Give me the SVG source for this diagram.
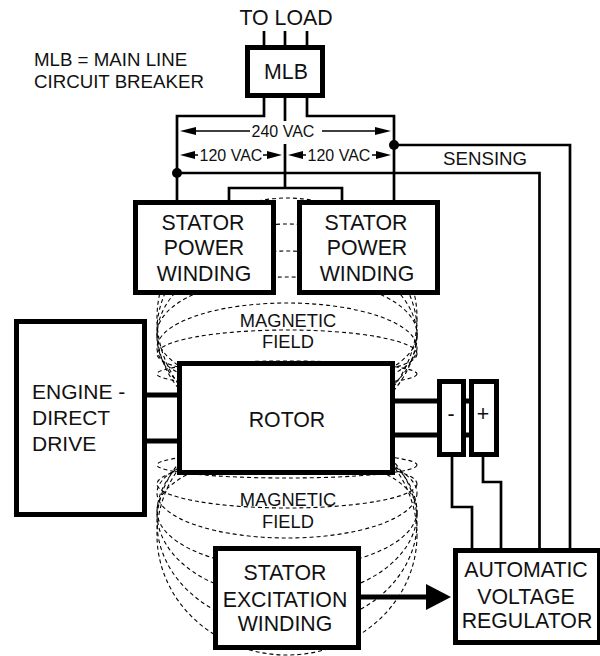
<svg xmlns="http://www.w3.org/2000/svg" width="600" height="656" viewBox="0 0 600 656">
<style>
text{font-family:"Liberation Sans",Arial,sans-serif;fill:#111;text-anchor:middle}
.t{font-size:21.3px}.s{font-size:16px}.m{font-size:18.3px}.n{font-size:18.7px;text-anchor:start}
.e{font-size:21px;text-anchor:start}
.box{fill:#fff;stroke:#000;stroke-width:5}
.w{fill:none;stroke:#000;stroke-width:2.7}
.th{fill:none;stroke:#000;stroke-width:1.6}
.sh{fill:none;stroke:#000;stroke-width:5}
.d{fill:none;stroke:#000;stroke-width:1.1;stroke-dasharray:4 3}
.a{fill:#000;stroke:none}
</style>
<rect width="600" height="656" fill="#fff"/>
<g id="field">
<ellipse class="d" cx="287" cy="374" rx="130" ry="13"/>
<ellipse class="d" cx="287" cy="354" rx="130" ry="24"/>
<ellipse class="d" cx="287" cy="348" rx="130" ry="45"/>
<ellipse class="d" cx="287" cy="334" rx="130" ry="57"/>
<ellipse class="d" cx="287" cy="336" rx="130" ry="85"/>
<ellipse class="d" cx="287" cy="330" rx="130" ry="106"/>
<ellipse class="d" cx="287" cy="318" rx="130" ry="120"/>
<ellipse class="d" cx="287" cy="465" rx="130" ry="13"/>
<ellipse class="d" cx="287" cy="484" rx="130" ry="24"/>
<ellipse class="d" cx="287" cy="493" rx="130" ry="45"/>
<ellipse class="d" cx="287" cy="511" rx="130" ry="57"/>
<ellipse class="d" cx="287" cy="513" rx="130" ry="85"/>
<ellipse class="d" cx="287" cy="522" rx="130" ry="106"/>
<ellipse class="d" cx="287" cy="535" rx="130" ry="120"/>
</g>
<g id="connectors">
<path class="w" d="M264 31V46M285 31V46M307 31V46"/>
<path class="w" d="M264 97V116H177V200M307 97V116H394V200M285 97V121M285 144V187M229 200V188H342V200"/>
<path class="w" d="M177 173H539.5V549M394 145H570V549"/>
<path class="w" d="M452 456V507H472V549M483 456V482H501V549"/>
<circle class="a" cx="177" cy="173" r="5"/><circle class="a" cx="394" cy="145" r="5"/>
<path class="th" d="M195 131H250M322 131H376M195 155H198M263 155H268M303 155H306M372 155H376"/>
<path class="a" d="M180 131L196 127V135ZM391 131L375 127V135ZM180 155L195 151V159ZM282 155L267 151V159ZM288 155L303 151V159ZM391 155L376 151V159Z"/>
<path class="sh" d="M147 395H177M147 441H177M395 401H437M395 435H437M466 401H469M466 435H469"/>
<path class="sh" d="M361 597H426"/>
<path class="a" d="M426 584L451 597L426 610Z"/>
</g>
<g id="load"><text class="t" x="286" y="25">TO LOAD</text></g>
<g id="note"><text class="n" x="34" y="66">MLB = MAIN LINE</text><text class="n" x="34" y="88">CIRCUIT BREAKER</text></g>
<g id="mlb"><rect class="box" x="247.5" y="47.5" width="75" height="48"/><text class="t" x="286" y="79">MLB</text></g>
<g id="labels"><text class="s" x="283" y="137">240 VAC</text><text class="s" x="231" y="161">120 VAC</text><text class="s" x="339" y="161">120 VAC</text><text class="n" x="443" y="165">SENSING</text></g>
<g id="stator1"><rect class="box" x="135.5" y="202.5" width="138" height="90"/><text class="t" x="203" y="230">STATOR</text><text class="t" x="204" y="255">POWER</text><text class="t" x="204" y="281">WINDING</text></g>
<g id="stator2"><rect class="box" x="299.5" y="202.5" width="138" height="90"/><text class="t" x="366" y="230">STATOR</text><text class="t" x="367" y="255">POWER</text><text class="t" x="367" y="281">WINDING</text></g>
<g id="field1"><text class="m" x="288" y="327">MAGNETIC</text><text class="m" x="288" y="348">FIELD</text></g>
<g id="engine"><rect class="box" x="16.5" y="321.5" width="128" height="193"/><text class="e" x="32" y="399">ENGINE -</text><text class="e" x="32" y="425">DIRECT</text><text class="e" x="32" y="451">DRIVE</text></g>
<g id="rotor"><rect class="box" x="179.5" y="363.5" width="213" height="109"/><text class="t" x="287" y="427">ROTOR</text></g>
<g id="neg"><rect class="box" x="439.5" y="381.5" width="24" height="73"/><text class="t" x="451" y="421">-</text></g>
<g id="pos"><rect class="box" x="471.5" y="381.5" width="25" height="73"/><text class="t" x="483" y="421">+</text></g>
<g id="field2"><text class="m" x="288" y="506">MAGNETIC</text><text class="m" x="288" y="528">FIELD</text></g>
<g id="excitation"><rect class="box" x="215.5" y="548.5" width="143" height="99"/><text class="t" x="285" y="580">STATOR</text><text class="t" x="285" y="607">EXCITATION</text><text class="t" x="285" y="631">WINDING</text></g>
<g id="avr"><rect class="box" x="455.5" y="550.5" width="144" height="92"/><text class="t" x="526" y="577">AUTOMATIC</text><text class="t" x="526" y="604">VOLTAGE</text><text class="t" x="527" y="628">REGULATOR</text></g>
</svg>
